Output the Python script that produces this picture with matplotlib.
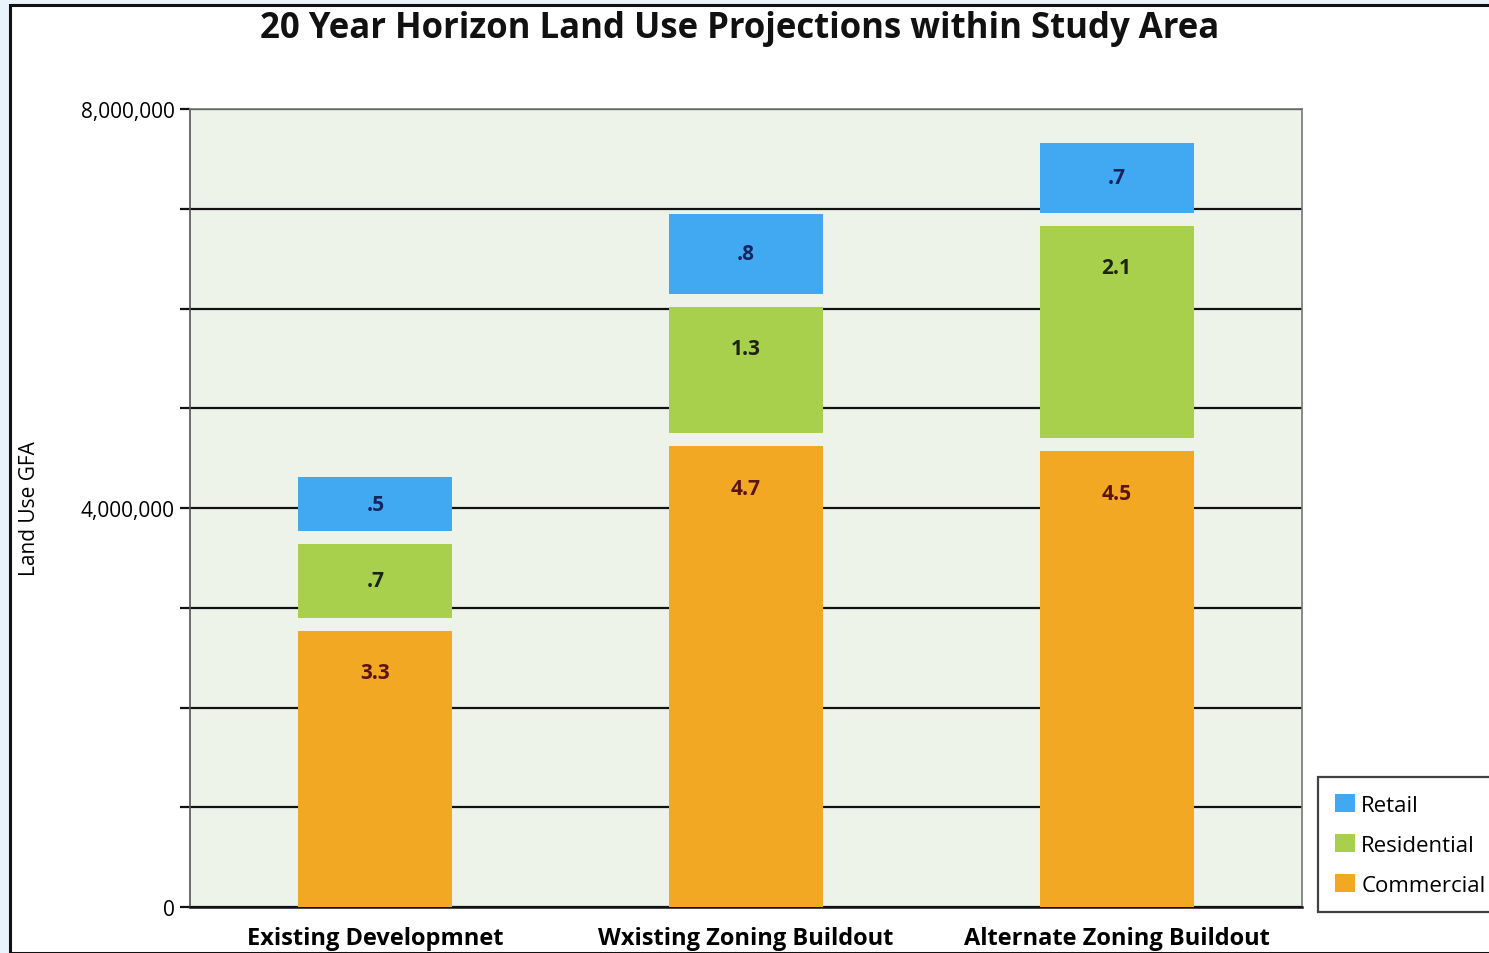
import numpy as np
import matplotlib
matplotlib.use("Agg")
import matplotlib.pyplot as plt
from matplotlib.patches import Rectangle

plt.rcParams.update({
    "font.family": ["Open Sans", "DejaVu Sans"],
})

# scenarios on the x axis (labels typed as in the original)
SCENARIOS = ["Existing Developmnet", "Wxisting Zoning Buildout", "Alternate Zoning Buildout"]

# drawn segment heights (GFA)
commercial = [2.77e6, 4.62e6, 4.57e6]
residential = [0.74e6, 1.27e6, 2.13e6]
retail = [0.54e6, 0.80e6, 0.70e6]

# value labels printed on the segments (millions)
commercial_lbl = ["3.3", "4.7", "4.5"]
residential_lbl = [".7", "1.3", "2.1"]
retail_lbl = [".5", ".8", ".7"]

YTICKS = [0, 4000000, 8000000]

COLORS = {"Retail": "#41a8f2", "Residential": "#a8d04c", "Commercial": "#f2a823"}
TXT = {"Retail": "#15245e", "Residential": "#1c2410", "Commercial": "#5c1410"}
GAP = 0.13e6

fig = plt.figure(figsize=(14.89, 9.54), dpi=100)
fig.patch.set_facecolor("#e8f3fb")
# white page with dark border
fig.patches.append(Rectangle((10 / 1489, 0), 1.0, 1 - 6 / 954, transform=fig.transFigure,
                             facecolor="white", edgecolor="#111111", linewidth=2.2, zorder=-10))

ax = fig.add_axes([190 / 1489, (954 - 908) / 954, 1112 / 1489, 798 / 954])
ax.set_zorder(2)
ax.set_facecolor("#eef3ea")

x = np.arange(len(SCENARIOS))
w = 0.415
series = [("Commercial", commercial, commercial_lbl),
          ("Residential", residential, residential_lbl),
          ("Retail", retail, retail_lbl)]
bottom = np.zeros(len(SCENARIOS))
handles = {}
for i, (name, vals, lbls) in enumerate(series):
    vals = np.array(vals)
    if i > 0:
        bottom = bottom + GAP
    bars = ax.bar(x, vals, w, bottom=bottom, color=COLORS[name], zorder=3, linewidth=0)
    handles[name] = bars
    for xi, b, v, t in zip(x, bottom, vals, lbls):
        top = b + v
        ax.text(xi, top - min(v / 2, 0.42e6), t, ha="center", va="center",
                fontsize=15, fontweight="bold", color=TXT[name], zorder=4)
    bottom = bottom + vals

ax.set_xlim(-0.5, 2.5)
ax.set_ylim(0, 8e6)
ax.set_yticks(np.arange(0, 8.5e6, 1e6))
ax.set_yticklabels([f"{int(v):,}" if v in YTICKS else "" for v in np.arange(0, 8.5e6, 1e6)],
                   fontsize=15)
ax.yaxis.grid(True, color="#111111", linewidth=1.6, zorder=1)
ax.tick_params(axis="y", length=7, width=1.6, color="#111111", pad=4)
ax.set_xticks(x)
ax.set_xticklabels(SCENARIOS, fontsize=17, fontweight="bold")
ax.tick_params(axis="x", length=0, pad=14)

for s in ["top", "right"]:
    ax.spines[s].set_color("#777777")
    ax.spines[s].set_linewidth(1.2)
ax.spines["left"].set_color("#555555")
ax.spines["left"].set_linewidth(1.2)
ax.spines["bottom"].set_color("#111111")
ax.spines["bottom"].set_linewidth(1.8)

ax.set_ylabel("Land Use GFA", fontsize=15)
ax.yaxis.set_label_coords(-150 / 1112, 0.5)

fig.text(740 / 1489, 1 - 29 / 954, "20 Year Horizon Land Use Projections within Study Area",
         ha="center", va="center", fontsize=25, fontweight="bold", color="#111111")

leg = fig.legend([handles["Retail"], handles["Residential"], handles["Commercial"]],
                 ["Retail", "Residential", "Commercial"],
                 loc="upper left", bbox_to_anchor=(1318 / 1489, 1 - 778 / 954),
                 frameon=True, fancybox=False, edgecolor="#111111",
                 handlelength=0.9, handleheight=0.9, handletextpad=0.3,
                 labelspacing=0.82, borderpad=0.75, borderaxespad=0.0,
                 prop={"size": 16})
leg.get_frame().set_linewidth(1.6)

fig.savefig("out.png", dpi=100)
